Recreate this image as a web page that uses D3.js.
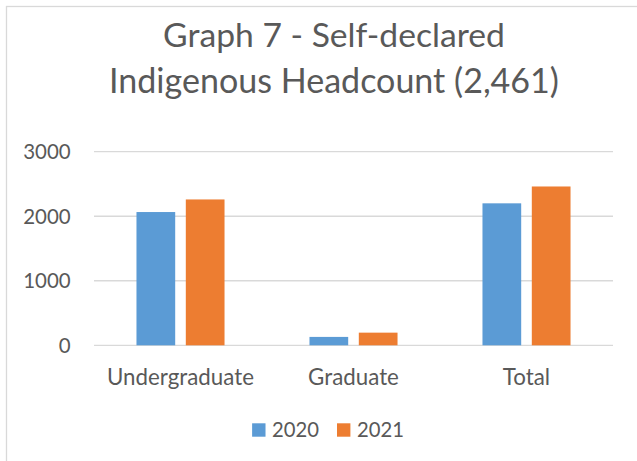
<!DOCTYPE html>
<html>
<head>
<meta charset="utf-8">
<script src="https://cdn.jsdelivr.net/npm/d3@7"></script>
<style>
  html, body { margin: 0; padding: 0; background: #fff; }
  svg { display: block; }
  text { font-family: Lato, "Open Sans", sans-serif; fill: #595959; }
</style>
</head>
<body>
<svg id="chart" width="637" height="461"></svg>
<script>
const titleLines = ["Graph 7 - Self-declared", "Indigenous Headcount (2,461)"];
const categories = ["Undergraduate", "Graduate", "Total"];
const seriesNames = ["2020", "2021"];
const values2020 = [2065, 130, 2200];
const values2021 = [2260, 196, 2461];
const yTicks = [0, 1000, 2000, 3000];
const colors = ["#5b9bd5", "#ed7d31"];

const series = [values2020, values2021];
const svg = d3.select("#chart");
const W = 637, H = 461;

svg.append("rect").attr("x", 0).attr("y", 0).attr("width", W).attr("height", H).attr("fill", "#fff");
// chart area border
svg.append("rect").attr("x", 6.5).attr("y", 6.5).attr("width", W + 10).attr("height", H + 10)
  .attr("fill", "none").attr("stroke", "#d9d9d9").attr("stroke-width", 1.3);

function fitText(sel, targetWidth, startSize) {
  sel.style("font-size", startSize + "px");
  const w = sel.node().getComputedTextLength();
  const s = startSize * targetWidth / w;
  sel.style("font-size", s + "px");
  return s;
}
function measureSize(str, targetWidth) {
  const p = svg.append("text").text(str);
  const s = fitText(p, targetWidth, 20);
  p.remove();
  return s;
}

// Title
const tWidths = [342, 450];
const tBase = [47, 93];
titleLines.forEach((t, i) => {
  const tx = svg.append("text").attr("x", 334).attr("y", tBase[i]).attr("text-anchor", "middle").text(t);
  fitText(tx, tWidths[i], 34);
});

const plotLeft = 94, plotRight = 613;
const y = d3.scaleLinear().domain([0, 3000]).range([345.3, 151.7]);
const x0 = d3.scaleBand().domain(categories).range([plotLeft, plotRight]).paddingInner(0.491).paddingOuter(0.2455);
const x1 = d3.scaleBand().domain(seriesNames).range([0, x0.bandwidth()]).paddingInner(0.215).paddingOuter(0);

// gridlines
svg.append("g").selectAll("line").data(yTicks).join("line")
  .attr("x1", plotLeft).attr("x2", plotRight)
  .attr("y1", d => y(d)).attr("y2", d => y(d))
  .attr("stroke", "#d9d9d9").attr("stroke-width", 1.3);

const labelSize = measureSize("Undergraduate", 147);
const tickSize = measureSize("3000", 47.5);
const legendSize = measureSize("2020", 47);

// y axis labels
svg.append("g").selectAll("text").data(yTicks).join("text")
  .attr("x", 70.7).attr("y", d => y(d)).attr("dy", "0.36em")
  .attr("text-anchor", "end").style("font-size", tickSize + "px")
  .text(d => d3.format("d")(d));

// bars
const groups = svg.append("g").selectAll("g").data(categories).join("g")
  .attr("transform", d => `translate(${x0(d)},0)`);
groups.selectAll("rect").data((c, ci) => seriesNames.map((s, si) => ({ s, si, v: series[si][ci] })))
  .join("rect")
  .attr("x", d => x1(d.s)).attr("width", x1.bandwidth())
  .attr("y", d => y(d.v)).attr("height", d => y(0) - y(d.v))
  .attr("fill", d => colors[d.si]);

// category labels
svg.append("g").selectAll("text").data(categories).join("text")
  .attr("x", d => x0(d) + x0.bandwidth() / 2).attr("y", 385)
  .attr("text-anchor", "middle").style("font-size", labelSize + "px")
  .text(d => d);

// legend
const legend = svg.append("g");
const sq = 13.4, gapSqText = 6.5, gapItems = 18;
let items = seriesNames.map((s, i) => {
  const t = legend.append("text").attr("y", 437).style("font-size", legendSize + "px").text(s);
  return { t, w: t.node().getComputedTextLength(), i };
});
const totalW = items.reduce((a, it) => a + sq + gapSqText + it.w, 0) + gapItems * (items.length - 1);
let cx = 328 - totalW / 2;
items.forEach(it => {
  legend.append("rect").attr("x", cx).attr("y", 423.3).attr("width", sq).attr("height", sq).attr("fill", colors[it.i]);
  it.t.attr("x", cx + sq + gapSqText);
  cx += sq + gapSqText + it.w + gapItems;
});
</script>
</body>
</html>
